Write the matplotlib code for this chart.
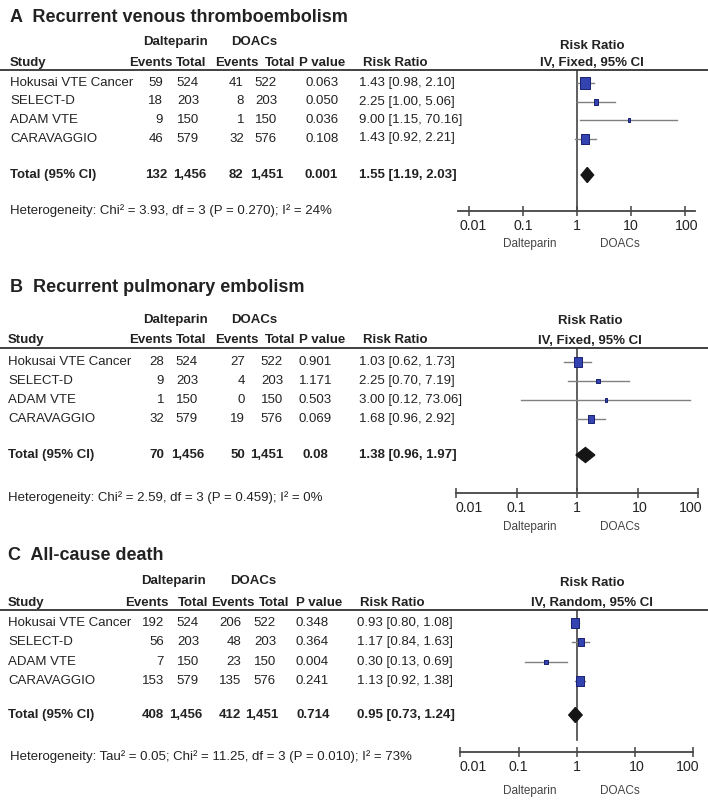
import numpy as np
import matplotlib
matplotlib.use('Agg')
import matplotlib.pyplot as plt
from matplotlib.lines import Line2D
from matplotlib.path import Path
from matplotlib.ticker import NullLocator
from matplotlib.transforms import ScaledTranslation

plt.rcParams['font.family'] = ['Liberation Sans', 'DejaVu Sans']

# ---- data ----
studies = ['Hokusai VTE Cancer', 'SELECT-D', 'ADAM VTE', 'CARAVAGGIO']
titles = ['A  Recurrent venous thromboembolism',
          'B  Recurrent pulmonary embolism',
          'C  All-cause death']
methods = ['IV, Fixed, 95% CI', 'IV, Fixed, 95% CI', 'IV, Random, 95% CI']

dal_events = [[59, 18, 9, 46], [28, 9, 1, 32], [192, 56, 7, 153]]
dal_total = [524, 203, 150, 579]
doac_events = [[41, 8, 1, 32], [27, 4, 0, 19], [206, 48, 23, 135]]
doac_total = [522, 203, 150, 576]
p_values = [['0.063', '0.050', '0.036', '0.108'],
            ['0.901', '1.171', '0.503', '0.069'],
            ['0.348', '0.364', '0.004', '0.241']]

rr = [[1.43, 2.25, 9.00, 1.43], [1.03, 2.25, 3.00, 1.68], [0.93, 1.17, 0.30, 1.13]]
rr_lo = [[0.98, 1.00, 1.15, 0.92], [0.62, 0.70, 0.12, 0.96], [0.80, 0.84, 0.13, 0.92]]
rr_hi = [[2.10, 5.06, 70.16, 2.21], [1.73, 7.19, 73.06, 2.92], [1.08, 1.63, 0.69, 1.38]]

tot_dal_events = [132, 70, 408]
tot_doac_events = [82, 50, 412]
tot_dal_n = [1456, 1456, 1456]
tot_doac_n = [1451, 1451, 1451]
tot_p = ['0.001', '0.08', '0.714']
tot_rr = [1.55, 1.38, 0.95]
tot_lo = [1.19, 0.96, 0.73]
tot_hi = [2.03, 1.97, 1.24]
tau2 = [0.0, 0.0, 0.05]

het_text = ['Heterogeneity: Chi\u00b2 = 3.93, df = 3 (P = 0.270); I\u00b2 = 24%',
            'Heterogeneity: Chi\u00b2 = 2.59, df = 3 (P = 0.459); I\u00b2 = 0%',
            'Heterogeneity: Tau\u00b2 = 0.05; Chi\u00b2 = 11.25, df = 3 (P = 0.010); I\u00b2 = 73%']

tick_vals = [0.01, 0.1, 1, 10, 100]
tick_labels = ['0.01', '0.1', '1', '10', '100']

# ---- layout (pixels) ----
layouts = [
    dict(title=(10, 17), group=42, head=63, line=70, row0=83, pitch=18.5, total=175,
         het=(10, 211), axis=211, ticklab=226, fav=244, dec=54, left=458, right=695,
         vend=211, rr1=46, rr2=63, rrx=592, sx=10,
         cols=[163, 199, 244, 277, 339], tcols=[167, 206, 243, 283, 338], rrtext=359,
         hcols=[173, 206, 258, 295, 345], rrhead=395, grp=[175, 254],
         lab_dx=[4, 0, 0, 0, 2]),
    dict(title=(10, 287), group=320, head=340, line=348, row0=362, pitch=19, total=455,
         het=(8, 498), axis=493, ticklab=508, fav=527, dec=60.5, left=456, right=698,
         vend=490, rr1=321, rr2=341, rrx=590, sx=8,
         cols=[164, 198, 245, 283, 332], tcols=[164, 204, 245, 283, 328], rrtext=359,
         hcols=[173, 206, 258, 295, 345], rrhead=395, grp=[175, 254],
         lab_dx=[13, 0, 0, 2, -7]),
    dict(title=(8, 556), group=581, head=603, line=610, row0=623, pitch=19.3, total=715,
         het=(10, 757), axis=752, ticklab=767, fav=791, dec=58.3, left=460, right=693,
         vend=740, rr1=583, rr2=603, rrx=592, sx=8,
         cols=[164, 199, 241, 276, 329], tcols=[164, 202, 241, 278, 330], rrtext=357,
         hcols=[169, 208, 254, 289, 342], rrhead=392, grp=[174, 253],
         lab_dx=[13, 0, 0, 2, -5]),
]

W, H = 708, 802
X1 = 577
txt = '#222222'
fig = plt.figure(figsize=(W / 100, H / 100), dpi=100)


def ftext(x, y, s, **kw):
    kw.setdefault('color', txt)
    kw.setdefault('va', 'center')
    fig.text(x / W, 1 - y / H, s, **kw)


box = Path([[-0.8, -1], [0.8, -1], [0.8, 1], [-0.8, 1], [-0.8, -1]],
           [Path.MOVETO, Path.LINETO, Path.LINETO, Path.LINETO, Path.CLOSEPOLY])

for k, L in enumerate(layouts):
    fs = 9.5
    ftext(L['title'][0], L['title'][1], titles[k], fontsize=13, fontweight='bold')
    ftext(L['grp'][0], L['group'], 'Dalteparin', fontsize=fs, fontweight='bold', ha='center')
    ftext(L['grp'][1], L['group'], 'DOACs', fontsize=fs, fontweight='bold', ha='center')
    ftext(L['sx'], L['head'], 'Study', fontsize=fs, fontweight='bold')
    for x, s in zip(L['hcols'], ['Events', 'Total', 'Events', 'Total', 'P value']):
        ftext(x, L['head'], s, fontsize=fs, fontweight='bold', ha='right')
    ftext(L['rrhead'], L['head'], 'Risk Ratio', fontsize=fs, fontweight='bold', ha='center')
    ftext(L['rrx'], L['rr1'], 'Risk Ratio', fontsize=fs, fontweight='bold', ha='center')
    ftext(L['rrx'], L['rr2'], methods[k], fontsize=fs, fontweight='bold', ha='center')
    fig.add_artist(Line2D([0, 1], [1 - L['line'] / H] * 2, transform=fig.transFigure,
                          color='#333333', lw=1.3))

    ys = [L['row0'] + i * L['pitch'] for i in range(len(studies))]
    for i, st in enumerate(studies):
        vals = [dal_events[k][i], dal_total[i], doac_events[k][i], doac_total[i]]
        ftext(L['sx'], ys[i], st, fontsize=fs)
        for x, v in zip(L['cols'][:4], vals):
            ftext(x, ys[i], str(v), fontsize=fs, ha='right')
        ftext(L['cols'][4], ys[i], p_values[k][i], fontsize=fs, ha='right')
        ftext(L['rrtext'], ys[i], '%.2f [%.2f, %.2f]' % (rr[k][i], rr_lo[k][i], rr_hi[k][i]),
              fontsize=fs)
    yt = L['total']
    ftext(L['sx'], yt, 'Total (95% CI)', fontsize=fs, fontweight='bold')
    tv = [tot_dal_events[k], '{:,}'.format(tot_dal_n[k]),
          tot_doac_events[k], '{:,}'.format(tot_doac_n[k]), tot_p[k]]
    for x, v in zip(L['tcols'], tv):
        ftext(x, yt, str(v), fontsize=fs, fontweight='bold', ha='right')
    ftext(L['rrtext'], yt, '%.2f [%.2f, %.2f]' % (tot_rr[k], tot_lo[k], tot_hi[k]),
          fontsize=fs, fontweight='bold')
    ftext(L['het'][0], L['het'][1], het_text[k], fontsize=fs)

    # forest plot
    ax = fig.add_axes([L['left'] / W, 1 - L['axis'] / H,
                       (L['right'] - L['left']) / W, (L['axis'] - L['line']) / H])
    ax.patch.set_visible(False)
    ax.set_xscale('log')
    ax.set_xlim(10 ** ((L['left'] - X1) / L['dec']), 10 ** ((L['right'] - X1) / L['dec']))
    ax.set_ylim(L['axis'], L['line'])
    ax.plot([1, 1], [L['line'], L['vend']], color='#444444', lw=1.2, zorder=1)
    for i in range(len(studies)):
        se = (np.log(rr_hi[k][i]) - np.log(rr_lo[k][i])) / (2 * 1.96)
        w = 1 / (se ** 2 + tau2[k])
        size = max(3.5, 2.4 * np.sqrt(w))
        ax.plot([rr_lo[k][i], rr_hi[k][i]], [ys[i], ys[i]], color='#808080', lw=1.0, zorder=2)
        ax.plot([rr[k][i]], [ys[i]], marker=box, ms=size * 0.72, mfc='#3344b0',
                mec='#1a2070', mew=0.7, ls='none', zorder=3)
    ax.fill([tot_lo[k], tot_rr[k], tot_hi[k], tot_rr[k]], [yt, yt - 7.5, yt, yt + 7.5],
            color='#151515', zorder=4)

    for sp in ['top', 'left', 'right']:
        ax.spines[sp].set_visible(False)
    ax.spines['bottom'].set_color('#444444')
    ax.spines['bottom'].set_linewidth(1.3)
    ax.set_yticks([])
    ax.set_xticks(tick_vals)
    ax.set_xticklabels(tick_labels)
    ax.xaxis.set_minor_locator(NullLocator())
    ax.tick_params(axis='x', direction='inout', length=7, width=1.1, color='#444444',
                   labelsize=10.2, labelcolor='#222222', pad=2.5)
    for lab, dx in zip(ax.get_xticklabels(), L['lab_dx']):
        lab.set_transform(lab.get_transform() + ScaledTranslation(dx / 100, 0, fig.dpi_scale_trans))

    ftext(530, L['fav'], 'Dalteparin', fontsize=8.5, ha='center', color='#444444')
    ftext(620, L['fav'], 'DOACs', fontsize=8.5, ha='center', color='#444444')

fig.savefig('out.png', dpi=100)
plt.close()
